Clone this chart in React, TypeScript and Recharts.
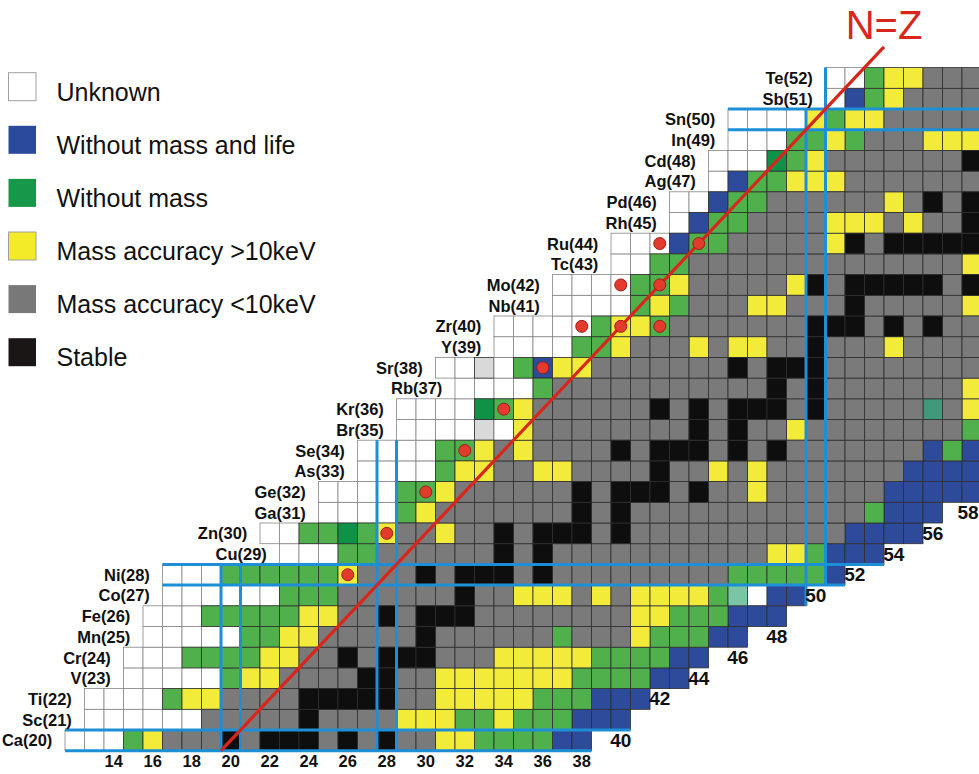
import { Scatter, ScatterChart, XAxis, YAxis } from "recharts";

// proton number of each row, its element, first neutron number and the cell states
// W unknown, B without mass and life, G without mass (D darker, T/Q teal shades),
// Y mass accuracy >10keV, R mass accuracy <10keV, K stable, L light grey
const ROW_Z = [20, 21, 22, 23, 24, 25, 26, 27, 28, 29, 30, 31, 32, 33, 34, 35, 36, 37, 38, 39, 40, 41, 42, 43, 44, 45, 46, 47, 48, 49, 50, 51, 52];
const ROW_ELEMENT = ["Ca", "Sc", "Ti", "V", "Cr", "Mn", "Fe", "Co", "Ni", "Cu", "Zn", "Ga", "Ge", "As", "Se", "Br", "Kr", "Rb", "Sr", "Y", "Zr", "Nb", "Mo", "Tc", "Ru", "Rh", "Pd", "Ag", "Cd", "In", "Sn", "Sb", "Te"];
const ROW_FIRST_N = [12, 13, 13, 15, 15, 16, 16, 17, 17, 23, 22, 25, 25, 27, 27, 29, 29, 32, 31, 34, 34, 37, 37, 40, 40, 43, 43, 45, 45, 46, 46, 51, 51];
const ROW_CELLS = [
  "WWWGYRRRKRKKKRKRKRRYYGGGGBB",
  "WWWWWWRRRRRKRRRRYYYGGYGGGBBB",
  "WWWWGYYRRRRKKKKKRRYYYYYGGGBBB",
  "WWWWWGYYRRRRKKRRYYYYYYYGGGGBB",
  "WWWGGGGYYRRKRKKKRRRYYYYYGGGGBB",
  "WWWWWGGYYRRRRRKRRRRRRGRRRYGGGBB",
  "WWWGGGGGYYRRKRKKKRRRRRRRRYYGGGBBB",
  "WWWWWWGGGRRRRRRKRRYYYRYRYYYYGTWBB",
  "WWWGGGGGGYRRRKRKKKRKRRRRRRRRRGGGGGB",
  "WWWGGRRRRRRKRKRRRRRRRRRRRYYGBBB",
  "WWGGDGYRRYRRKRKKKRKRRRRRRRRRRRBBBB",
  "WWWWGYRRRRRRRKRKRRRRRRRRRRRRGBBB",
  "WWWWGGYRRRRRRKRKKKRKRRYRRRRRRBBBBB",
  "WWWWGYYRRYYRRRRKRRYRYRRRRRRRBBBB",
  "WWWWGGYRYRRRRKRKKKRKRKRRRRRRRBGB",
  "WWWWLWYRRRRRRRRKRKRRYRRRRRRRRG",
  "WWWWDGYRRRRRRKRKRKKKRKRRRRRQRY",
  "WWWWGRRRRRRRRRRRKRKRRRRRRRY",
  "WWLWGBYYRRRRRRRKRKKKRRRRRRRR",
  "WWWWGGYRRRYRYYRRKRRRYRRRR",
  "WWWWWGYYGRRRRRRRKKKRKRKRR",
  "WWWWGYGRRRYYRRRKRRRRRY",
  "WWWWGGYRRRRRYKRKKKKKRK",
  "WWGGRRRRRRRRRRRRRRY",
  "WWWBGGRRRRRYKRKKKKK",
  "WBGGRRRRYYYRYRRK",
  "WWBGGRRRRRRYRKRK",
  "WBGGYYYRRRRRRR",
  "WWWDGYRRRRRRRK",
  "WWWGGYGRRRYYY",
  "WWWWYGYYRRRRR",
  "WBGYRRRR",
  "WWGYYRRR",
];

// red markers: [N, Z]
const MARKED_NUCLEI = [
  [26, 28], [28, 30], [30, 32], [32, 34], [34, 36], [36, 38], [38, 40],
  [40, 40], [42, 40], [40, 42], [42, 42], [42, 44], [44, 44],
];

const BOTTOM_N = [14, 16, 18, 20, 22, 24, 26, 28, 30, 32, 34, 36, 38];
const EDGE_N = [40, 42, 44, 46, 48, 50, 52, 54, 56, 58];
const EDGE_Z = [20, 22, 23, 24, 25, 27, 28, 29, 30, 31];

const LEGEND_LABELS = [
  "Unknown",
  "Without mass and life",
  "Without mass",
  "Mass accuracy >10keV",
  "Mass accuracy <10keV",
  "Stable",
];
const LEGEND_CODES = ["W", "B", "G", "Y", "R", "K"];
const LEGEND_SWATCHES = ["#ffffff", "#2c4a9c", "#17974a", "#f4eb28", "#787878", "#1b1616"];

// magic-number boxes, [n1, z1, n2, z2] in chart units
const MAGIC_SEGMENTS = [
  [11.5, 19.5, 38.5, 19.5],
  [11.5, 20.5, 40.5, 20.5],
  [16.5, 27.5, 51.5, 27.5],
  [16.5, 28.5, 53.5, 28.5],
  [45.5, 49.5, 58.4, 49.5],
  [45.5, 50.5, 58.4, 50.5],
  [19.5, 19.5, 19.5, 28.5],
  [20.5, 19.5, 20.5, 28.5],
  [27.5, 19.5, 27.5, 34.5],
  [28.5, 19.5, 28.5, 34.5],
  [49.5, 26.5, 49.5, 50.5],
  [50.5, 27.5, 50.5, 52.5],
];
const NZ_LINE = [19.5, 53.5];

const FONT = '"Liberation Sans", Arial, sans-serif';
const CHART_W = 979;
const CHART_H = 774;
const CELL_W = 19.5;
const CELL_H = 20.7;
const X_MIN = 20 - 230.75 / CELL_W;
const X_MAX = X_MIN + CHART_W / CELL_W;
const Y_MIN = 20 - (CHART_H - 740.35) / CELL_H;
const Y_MAX = Y_MIN + CHART_H / CELL_H;

const FILLS: Record<string, string> = {
  W: "#ffffff",
  L: "#d9d9d9",
  B: "#2e4b9b",
  G: "#4fb04c",
  D: "#0f9148",
  T: "#7ac5a6",
  Q: "#3e9a7a",
  Y: "#f3eb3a",
  R: "#7a7a7a",
  K: "#0e0e0e",
};

const GROUP_OF: Record<string, string> = { W: "W", L: "W", B: "B", G: "G", D: "G", T: "G", Q: "G", Y: "Y", R: "R", K: "K" };

type Cell = { n: number; z: number; code: string };

const allCells: Cell[] = ROW_Z.flatMap((z, i) =>
  ROW_CELLS[i].split("").map((code, j) => ({ n: ROW_FIRST_N[i] + j, z, code })),
);

const elementLabels = ROW_Z.map((z, i) => ({
  n: ROW_FIRST_N[i] - 1.15,
  z,
  text: `${ROW_ELEMENT[i]}(${z})`,
}));
const bottomLabels = BOTTOM_N.map((n) => ({ n, z: 19, text: String(n) }));
const edgeLabels = EDGE_N.map((n, i) => ({ n, z: EDGE_Z[i], text: String(n) }));
const markers = MARKED_NUCLEI.map(([n, z]) => ({ n, z }));

function CellShape(props: any) {
  const { cx, cy, payload } = props;
  const white = payload.code === "W";
  return (
    <rect
      x={cx - CELL_W / 2}
      y={cy - CELL_H / 2}
      width={CELL_W}
      height={CELL_H}
      fill={FILLS[payload.code]}
      stroke={white ? "#858585" : "#2e2e2e"}
      strokeWidth={0.8}
    />
  );
}

function MarkerShape(props: any) {
  return <circle cx={props.cx} cy={props.cy} r={6} fill="#e23b2e" stroke="#a11d15" strokeWidth={1} />;
}

function NoPoint() {
  return <g />;
}

function labelShape(anchor: "end" | "middle", size: number) {
  return (props: any) => {
    // keep the last edge number inside the picture
    const x = anchor === "middle" ? Math.min(props.cx, CHART_W - size * 0.58) : props.cx;
    return (
      <text
        x={x}
        y={props.cy}
        textAnchor={anchor}
        dominantBaseline="central"
        fontSize={size}
        fontWeight="bold"
        fontFamily={FONT}
        fill="#111"
      >
        {props.payload.text}
      </text>
    );
  };
}

function TitleShape(props: any) {
  return (
    <text
      x={props.cx}
      y={props.cy}
      textAnchor="middle"
      dominantBaseline="central"
      fontSize={40}
      fontFamily={FONT}
      fill="#d8261c"
    >
      {props.payload.text}
    </text>
  );
}

function ChartLegend() {
  return (
    <svg width={340} height={380} style={{ position: "absolute", left: 0, top: 0 }}>
      {LEGEND_LABELS.map((label, i) => {
        const top = 72.7 + i * 53.1;
        return (
          <g key={label}>
            <rect
              x={8.5}
              y={top}
              width={27.5}
              height={28}
              fill={LEGEND_SWATCHES[i]}
              stroke={i === 0 || i === 3 ? "#a0a0a0" : "none"}
              strokeWidth={1}
            />
            <text x={56.5} y={top + 28} fontSize={25} fontFamily={FONT} fill="#111">
              {label}
            </text>
          </g>
        );
      })}
    </svg>
  );
}

export default function App() {
  return (
    <div style={{ position: "absolute", left: 0, top: 0, width: CHART_W, height: CHART_H, background: "#fff" }}>
      <ScatterChart width={CHART_W} height={CHART_H} margin={{ top: 0, right: 0, bottom: 0, left: 0 }}>
        <XAxis type="number" dataKey="n" domain={[X_MIN, X_MAX]} allowDataOverflow hide />
        <YAxis type="number" dataKey="z" domain={[Y_MIN, Y_MAX]} allowDataOverflow hide />
        {LEGEND_CODES.map((code, i) => (
          <Scatter
            key={code}
            name={LEGEND_LABELS[i]}
            data={allCells.filter((c) => GROUP_OF[c.code] === code)}
            fill={LEGEND_SWATCHES[i]}
            shape={CellShape}
            isAnimationActive={false}
          />
        ))}
        {MAGIC_SEGMENTS.map(([n1, z1, n2, z2], i) => (
          <Scatter
            key={`magic-${i}`}
            data={[
              { n: n1, z: z1 },
              { n: n2, z: z2 },
            ]}
            line={{ stroke: "#1d8fd6", strokeWidth: 3 }}
            shape={NoPoint}
            isAnimationActive={false}
          />
        ))}
        <Scatter
          data={NZ_LINE.map((v) => ({ n: v, z: v }))}
          line={{ stroke: "#d8261c", strokeWidth: 3.2 }}
          shape={NoPoint}
          isAnimationActive={false}
        />
        <Scatter data={markers} shape={MarkerShape} isAnimationActive={false} />
        <Scatter data={elementLabels} shape={labelShape("end", 16.5)} isAnimationActive={false} />
        <Scatter data={bottomLabels} shape={labelShape("middle", 16.5)} isAnimationActive={false} />
        <Scatter data={edgeLabels} shape={labelShape("middle", 19)} isAnimationActive={false} />
        <Scatter data={[{ n: 53.5, z: 54.56, text: "N=Z" }]} shape={TitleShape} isAnimationActive={false} />
      </ScatterChart>
      <ChartLegend />
    </div>
  );
}
